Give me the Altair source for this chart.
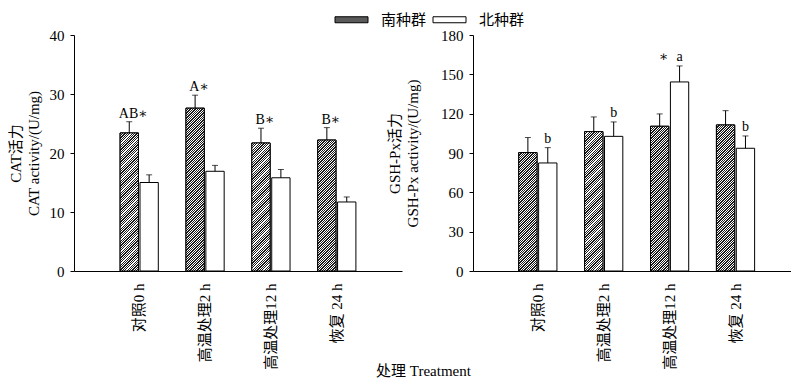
import altair as alt
import pandas as pd

# ---------------- data ----------------
categories = ["对照0 h", "高温处理2 h", "高温处理12 h", "恢复 24 h"]
groups = ["南种群", "北种群"]

cat_south = [23.4, 27.6, 21.7, 22.2]
cat_south_err = [1.9, 2.2, 2.5, 2.1]
cat_north = [15.0, 16.9, 15.8, 11.7]
cat_north_err = [1.3, 1.0, 1.4, 0.85]
cat_south_labels = ["AB∗", "A∗", "B∗", "B∗"]

gsh_south = [90.3, 106.3, 110.4, 111.4]
gsh_south_err = [11.5, 11.2, 9.4, 10.9]
gsh_north = [82.4, 102.7, 144.2, 93.6]
gsh_north_err = [11.7, 11.0, 12.2, 9.4]
gsh_north_labels = ["b", "b", "a", "b"]
gsh_south_labels = ["", "", "∗", ""]

cat_ticks = [0, 10, 20, 30, 40]
gsh_ticks = [0, 30, 60, 90, 120, 150, 180]

SERIF = "Liberation Serif, DejaVu Serif, Noto Sans CJK SC"
CJK = "Noto Sans CJK SC"
PLOT_H = 236
BAR_W = 18.3


def long_frame(south, south_err, north, north_err):
    rows = []
    for c, v, e in zip(categories, south, south_err):
        rows.append({"category": c, "group": groups[0], "value": v, "top": v + e})
    for c, v, e in zip(categories, north, north_err):
        rows.append({"category": c, "group": groups[1], "value": v, "top": v + e})
    return pd.DataFrame(rows)


def hatch(value, ymax, period=2.4, duty=0.55, ink="#1a1a1a"):
    """Diagonal '////' hatch as a hard-stop linear gradient in the bar's box."""
    h = value / ymax * PLOT_H
    w = BAR_W
    k = (w + h) / (w * w + h * h)
    p = period / (w + h)
    stops = []
    t0 = 0.0
    while t0 < 1:
        t1 = min(t0 + duty * p, 1.0)
        t2 = min(t0 + p, 1.0)
        stops += [
            {"offset": round(t0, 6), "color": ink},
            {"offset": round(t1, 6), "color": ink},
            {"offset": round(t1, 6), "color": "#ffffff"},
            {"offset": round(t2, 6), "color": "#ffffff"},
        ]
        t0 += p
    return {"gradient": "linear", "x1": 0, "y1": 0,
            "x2": round(w * k, 6), "y2": round(h * k, 6), "stops": stops}


cat_df = long_frame(cat_south, cat_south_err, cat_north, cat_north_err)
gsh_df = long_frame(gsh_south, gsh_south_err, gsh_north, gsh_north_err)

cat_lab = pd.DataFrame({
    "category": categories,
    "group": groups[0],
    "label": cat_south_labels,
    "y": [v + e for v, e in zip(cat_south, cat_south_err)],
})
gsh_lab_n = pd.DataFrame({
    "category": categories,
    "group": groups[1],
    "label": gsh_north_labels,
    "y": [v + e for v, e in zip(gsh_north, gsh_north_err)],
})
gsh_lab_s = pd.DataFrame({
    "category": categories,
    "group": groups[0],
    "label": gsh_south_labels,
    "y": [v + e for v, e in zip(gsh_north, gsh_north_err)],
})

color_scale = alt.Scale(domain=groups, range=["#5a5a5a", "#ffffff"])
# symbol box is 6x6; the path draws a 33x6 swatch overflowing the box sideways
legend = alt.Legend(
    orient="none", legendX=270, legendY=-23, direction="horizontal", title=None,
    padding=0, symbolType="M-5.5,-1H5.5V1H-5.5Z", symbolSize=36,
    symbolStrokeColor="black", symbolStrokeWidth=1,
    labelFont=CJK, labelFontSize=15, labelColor="black",
    columnPadding=4, labelOffset=22,
)


def panel(df, south_vals, ticks, ymax, ytitle, ytitle_pad, xscale, show_xtitle, labels, dy):
    if show_xtitle:
        xaxis = alt.Axis(
            labelAngle=270, ticks=False, labelPadding=12, labelFont=SERIF,
            labelFontSize=15, labelColor="black", domainColor="black",
            title="处理 Treatment", titleFont=SERIF, titleFontSize=15,
            titleFontWeight="normal", titleColor="black", titleX=349,
            titleY=104, titleBaseline="alphabetic",
        )
    else:
        xaxis = alt.Axis(
            labelAngle=270, ticks=False, labelPadding=12, labelFont=SERIF,
            labelFontSize=15, labelColor="black", domainColor="black", title=None,
        )
    x = alt.X("category:N", sort=categories, scale=xscale, axis=xaxis)
    xo = alt.XOffset("group:N", sort=groups, scale=alt.Scale(paddingInner=0.08))
    yaxis = alt.Axis(
        values=ticks, grid=False, tickSize=4, tickColor="black",
        domainColor="black", labelPadding=6, labelFont=SERIF,
        labelFontSize=15, labelColor="black", labelOverlap=False,
        title=ytitle, titleFont=SERIF, titleFontSize=15,
        titleFontWeight="normal", titleColor="black",
        titlePadding=ytitle_pad, titleLineHeight=18,
    )
    yscale = alt.Scale(domain=[0, ymax], nice=False)
    y = alt.Y("value:Q", scale=yscale, axis=yaxis)
    base = alt.Chart(df)
    bars = base.mark_bar(stroke="black", strokeWidth=1).encode(
        x=x, xOffset=xo, y=y,
        color=alt.Color("group:N", sort=groups, scale=color_scale, legend=legend),
    )
    layers = [bars]
    # hatched overlay on each 南种群 bar
    for c, v in zip(categories, south_vals):
        layers.append(
            base.transform_filter(
                (alt.datum.category == c) & (alt.datum.group == groups[0])
            ).mark_bar(stroke="black", strokeWidth=1).encode(
                x=x, xOffset=xo, y=y, color=alt.value(hatch(v, ymax))
            )
        )
    err = base.mark_rule(color="black", strokeWidth=1).encode(
        x=x, xOffset=xo, y=y, y2="top:Q"
    )
    cap = base.mark_tick(color="black", size=6, thickness=1, orient="horizontal").encode(
        x=x, xOffset=xo, y=alt.Y("top:Q", scale=yscale, axis=yaxis)
    )
    layers += [err, cap]
    for ldf, ddx in labels:
        layers.append(
            alt.Chart(ldf).mark_text(
                font=SERIF, fontSize=14, color="black", baseline="alphabetic",
                dy=dy, dx=ddx,
            ).encode(x=x, xOffset=xo, y=alt.Y("y:Q", scale=yscale, axis=yaxis),
                     text="label:N")
        )
    return alt.layer(*layers)


left = panel(
    cat_df, cat_south, cat_ticks, 40, ["CAT活力", "CAT activity/(U/mg)"], 8,
    alt.Scale(paddingInner=0.42, paddingOuter=0.70), True,
    [(cat_lab, 4)], -4,
).properties(width=328, height=PLOT_H)

right = panel(
    gsh_df, gsh_south, gsh_ticks, 180, ["GSH-Px活力", "GSH-Px activity/(U/mg)"], 20,
    alt.Scale(paddingInner=0.42, paddingOuter=0.623, align=0.557), False,
    [(gsh_lab_n, 0), (gsh_lab_s, 4)], -5,
).properties(width=318, height=PLOT_H)

chart = alt.hconcat(left, right, spacing=71, bounds="flush").properties(
    padding={"left": 0, "top": 4, "right": 0, "bottom": 0}
).configure_view(stroke=None).configure_axisY(labelOverlap=False)

chart.save("out.html", embed_options={"renderer": "svg", "actions": False})
